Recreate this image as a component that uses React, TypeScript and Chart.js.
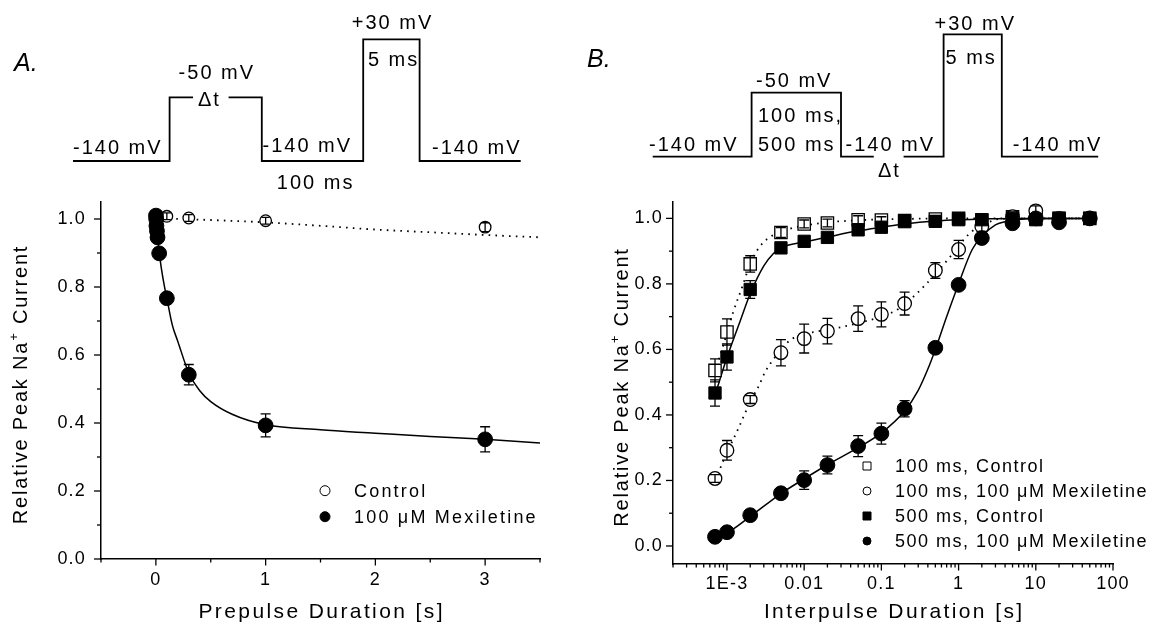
import React, { useEffect, useRef } from 'react';
import { Chart, registerables } from 'chart.js';

Chart.register(...registerables);

const FONT = '"Liberation Sans", Arial, Helvetica, sans-serif';

// ---------------- Panel A: prepulse duration (linear) ----------------
const prepulseControlX = [0.003, 0.01, 0.03, 0.1, 0.3, 1, 3];
const prepulseControlY = [1.0, 1.005, 1.005, 1.008, 1.003, 0.995, 0.976];
const prepulseControlErr = [0.01, 0.01, 0.01, 0.01, 0.01, 0.01, 0.013];

const prepulseMexX = [0.001, 0.003, 0.005, 0.01, 0.015, 0.03, 0.1, 0.3, 1, 3];
const prepulseMexY = [1.01, 1.0, 0.98, 0.965, 0.946, 0.899, 0.767, 0.542, 0.393, 0.352];
const prepulseMexErr = [0.01, 0.01, 0.01, 0.01, 0.01, 0.012, 0.015, 0.03, 0.034, 0.037];

const prepulseControlFitX = [0, 0.5, 1, 1.5, 2, 2.5, 3, 3.5];
const prepulseControlFitY = [1.002, 0.997, 0.99, 0.98, 0.969, 0.961, 0.953, 0.946];

const prepulseMexFitX = [0, 0.01, 0.02, 0.035, 0.05, 0.075, 0.1, 0.15, 0.2, 0.3, 0.4, 0.5, 0.7, 1, 1.5, 2, 2.5, 3, 3.5];
const prepulseMexFitY = [1.0, 0.965, 0.932, 0.89, 0.855, 0.807, 0.767, 0.688, 0.64, 0.547, 0.495, 0.463, 0.425, 0.395, 0.38, 0.37, 0.36, 0.352, 0.341];

const prepulseTickLabels = ['0', '1', '2', '3'];

// ---------------- Panel B: interpulse duration (log) ----------------
const interpulseX = [0.0007, 0.001, 0.002, 0.005, 0.01, 0.02, 0.05, 0.1, 0.2, 0.5, 1, 2, 5, 10, 20, 50];

const ctrl100Y = [0.536, 0.653, 0.861, 0.957, 0.983, 0.986, 0.996, 0.995, 0.993, 0.998, 1.0, 0.995, 1.005, 1.0, 1.0, 1.0];
const ctrl100Err = [0.035, 0.04, 0.025, 0.015, 0.012, 0.012, 0.012, 0.01, 0.01, 0.01, 0.01, 0.01, 0.01, 0.01, 0.01, 0.01];

const mex100Y = [0.206, 0.292, 0.447, 0.59, 0.633, 0.656, 0.694, 0.707, 0.74, 0.841, 0.905, 0.975, 1.005, 1.023, 1.0, 1.0];
const mex100Err = [0.012, 0.03, 0.012, 0.04, 0.044, 0.039, 0.039, 0.038, 0.035, 0.024, 0.028, 0.015, 0.015, 0.015, 0.01, 0.01];

const ctrl500Y = [0.467, 0.577, 0.783, 0.91, 0.93, 0.942, 0.965, 0.973, 0.99, 0.991, 0.996, 0.996, 1.0, 0.996, 1.0, 1.0];
const ctrl500Err = [0.04, 0.04, 0.027, 0.012, 0.01, 0.01, 0.01, 0.01, 0.01, 0.01, 0.01, 0.01, 0.01, 0.01, 0.01, 0.01];

const mex500Y = [0.028, 0.042, 0.094, 0.161, 0.201, 0.247, 0.305, 0.343, 0.419, 0.605, 0.797, 0.94, 0.985, 1.0, 0.988, 1.0];
const mex500Err = [0.008, 0.008, 0.008, 0.01, 0.028, 0.027, 0.032, 0.032, 0.025, 0.015, 0.012, 0.01, 0.01, 0.01, 0.01, 0.01];

const ctrl100FitX = [0.0007, 0.001, 0.0012, 0.0016, 0.002, 0.0025, 0.0034, 0.005, 0.0065, 0.01, 0.02, 0.05, 0.1, 0.3, 1, 5, 50];
const ctrl100FitY = [0.53, 0.65, 0.713, 0.795, 0.862, 0.905, 0.939, 0.958, 0.968, 0.978, 0.988, 0.994, 0.997, 0.999, 1.0, 1.0, 1.0];

const mex100FitX = [0.0007, 0.001, 0.0014, 0.002, 0.0026, 0.0031, 0.004, 0.006, 0.008, 0.015, 0.03, 0.06, 0.1, 0.17, 0.3, 0.5, 0.8, 1.4, 2, 3.4, 10, 50];
const mex100FitY = [0.2, 0.285, 0.358, 0.44, 0.49, 0.53, 0.57, 0.62, 0.64, 0.655, 0.668, 0.685, 0.7, 0.725, 0.775, 0.83, 0.886, 0.955, 0.978, 0.998, 1.0, 1.0];

const ctrl500FitX = [0.0007, 0.001, 0.0015, 0.002, 0.003, 0.004, 0.005, 0.01, 0.02, 0.05, 0.1, 0.2, 0.5, 1, 2, 5, 50];
const ctrl500FitY = [0.46, 0.575, 0.69, 0.77, 0.855, 0.893, 0.91, 0.928, 0.943, 0.962, 0.973, 0.983, 0.992, 0.996, 0.998, 1.0, 1.0];

const mex500FitX = [0.0007, 0.001, 0.002, 0.005, 0.01, 0.02, 0.05, 0.1, 0.2, 0.3, 0.4, 0.5, 0.7, 1, 1.5, 2, 3, 4, 5, 10, 50];
const mex500FitY = [0.028, 0.04, 0.09, 0.16, 0.205, 0.248, 0.3, 0.345, 0.412, 0.475, 0.54, 0.6, 0.7, 0.8, 0.905, 0.945, 0.98, 0.99, 0.995, 1.0, 1.0];

const interpulseMajorTicks = [0.001, 0.01, 0.1, 1, 10, 100];
const interpulseTickLabels = ['1E-3', '0.01', '0.1', '1', '10', '100'];
const interpulseMinorMultipliers = [2, 3, 4, 5, 6, 7, 8, 9];

// ---------------- Legends ----------------
const legendA = [
  { label: 'Control', shape: 'circle', filled: false },
  { label: '100 \u03BCM Mexiletine', shape: 'circle', filled: true },
];
const legendB = [
  { label: '100 ms, Control', shape: 'rect', filled: false },
  { label: '100 ms, 100 \u03BCM Mexiletine', shape: 'circle', filled: false },
  { label: '500 ms, Control', shape: 'rect', filled: true },
  { label: '500 ms, 100 \u03BCM Mexiletine', shape: 'circle', filled: true },
];

const W = 575;
const H = 629;

function pts(xs: number[], ys: number[]) {
  return xs.map((x, i) => ({ x, y: ys[i] }));
}

function scatterSet(data: any, errs: number[], shape: string, filled: boolean, radius: number, cap: number, order: number) {
  return {
    type: 'scatter',
    data,
    pointStyle: shape,
    pointRadius: radius,
    pointBackgroundColor: filled ? '#000' : '#fff',
    pointBorderColor: '#000',
    pointBorderWidth: filled ? 1 : 1.3,
    backgroundColor: filled ? '#000' : '#fff',
    borderColor: '#000',
    showLine: false,
    errorBars: errs,
    capWidth: cap,
    order,
  };
}

function fitSet(data: any, dotted: boolean, order: number) {
  return {
    type: 'line',
    data,
    borderColor: '#000',
    borderWidth: dotted ? 1.8 : 1.5,
    borderDash: dotted ? [1.6, 5.2] : [],
    pointRadius: 0,
    fill: false,
    cubicInterpolationMode: 'monotone',
    order,
  };
}

const spacingPlugin = {
  id: 'spacing',
  beforeLayout(chart: any) {
    chart.ctx.letterSpacing = '1.2px';
  },
  beforeDraw(chart: any) {
    chart.ctx.letterSpacing = '1.2px';
  },
};

const errorBarPlugin = {
  id: 'errorBars',
  afterDatasetDraw(chart: any, args: any) {
    const ds = chart.data.datasets[args.index];
    const errs = ds.errorBars;
    if (!errs) return;
    const ctx = chart.ctx;
    const xs = chart.scales.x;
    const ys = chart.scales.y;
    ctx.save();
    ctx.strokeStyle = '#000';
    ctx.lineWidth = 1.3;
    const cw = ds.capWidth / 2;
    ds.data.forEach((p: any, i: number) => {
      const e = errs[i];
      if (!e) return;
      const px = xs.getPixelForValue(p.x);
      const top = ys.getPixelForValue(p.y + e);
      const bot = ys.getPixelForValue(p.y - e);
      ctx.beginPath();
      ctx.moveTo(px, top);
      ctx.lineTo(px, bot);
      ctx.moveTo(px - cw, top);
      ctx.lineTo(px + cw, top);
      ctx.moveTo(px - cw, bot);
      ctx.lineTo(px + cw, bot);
      ctx.stroke();
    });
    ctx.restore();
  },
};

function drawMarker(ctx: any, shape: string, filled: boolean, x: number, y: number, r: number) {
  ctx.beginPath();
  if (shape === 'circle') {
    ctx.arc(x, y, r, 0, Math.PI * 2);
  } else {
    ctx.rect(x - r, y - r, 2 * r, 2 * r);
  }
  ctx.fillStyle = filled ? '#000' : '#fff';
  ctx.fill();
  ctx.strokeStyle = '#000';
  ctx.lineWidth = 1;
  ctx.stroke();
}

function makeDecor(cfg: any) {
  return {
    id: 'decor',
    afterDraw(chart: any) {
      const ctx = chart.ctx;
      const area = chart.chartArea;
      const xs = chart.scales.x;
      const ys = chart.scales.y;
      ctx.save();
      // tick marks (major long, minor short, outward)
      ctx.strokeStyle = '#000';
      ctx.lineWidth = 1.3;
      xs.ticks.forEach((t: any) => {
        const major = t.label !== '' && t.label != null;
        const len = major ? 6.5 : 3.5;
        const px = xs.getPixelForValue(t.value);
        ctx.beginPath();
        ctx.moveTo(px, area.bottom);
        ctx.lineTo(px, area.bottom + len);
        ctx.stroke();
      });
      ys.ticks.forEach((t: any) => {
        const major = t.label !== '' && t.label != null;
        const len = major ? 7 : 4;
        const py = ys.getPixelForValue(t.value);
        ctx.beginPath();
        ctx.moveTo(area.left, py);
        ctx.lineTo(area.left - len, py);
        ctx.stroke();
      });

      ctx.fillStyle = '#000';
      // x title
      ctx.font = `21px ${FONT}`;
      ctx.letterSpacing = '2.4px';
      ctx.textAlign = 'center';
      ctx.textBaseline = 'middle';
      ctx.fillText(cfg.xTitle, (area.left + area.right) / 2 + 1.2, cfg.xTitleY);

      // y title with superscript
      ctx.save();
      ctx.translate(cfg.yTitleX, (area.top + area.bottom) / 2 + 4);
      ctx.rotate(-Math.PI / 2);
      ctx.textAlign = 'left';
      ctx.letterSpacing = '1.8px';
      ctx.font = `20px ${FONT}`;
      const p1 = 'Relative Peak Na';
      const p3 = ' Current';
      const w1 = ctx.measureText(p1).width;
      const w3 = ctx.measureText(p3).width;
      ctx.font = `13px ${FONT}`;
      const w2 = ctx.measureText('+').width;
      const start = -(w1 + w2 + w3) / 2;
      ctx.font = `20px ${FONT}`;
      ctx.fillText(p1, start, 0);
      ctx.font = `13px ${FONT}`;
      ctx.fillText('+', start + w1, -7);
      ctx.font = `20px ${FONT}`;
      ctx.fillText(p3, start + w1 + w2, 0);
      ctx.restore();

      // legend
      ctx.font = `18px ${FONT}`;
      ctx.letterSpacing = cfg.legendSpacing;
      ctx.textAlign = 'left';
      ctx.textBaseline = 'middle';
      cfg.legend.forEach((item: any, i: number) => {
        const y = cfg.legendRows[i];
        drawMarker(ctx, item.shape, item.filled, cfg.legendMarkerX, y, cfg.legendMarkerR);
        ctx.fillStyle = '#000';
        ctx.fillText(item.label, cfg.legendTextX, y + 1);
      });
      ctx.restore();
    },
  };
}

const tickFont = { family: FONT, size: 18 };

function linearYTick(v: any) {
  const n = Math.round(Number(v) * 10);
  return n % 2 === 0 ? (n / 10).toFixed(1) : '';
}

function buildChartA(canvas: HTMLCanvasElement) {
  const datasets: any[] = [
    scatterSet(pts(prepulseMexX, prepulseMexY), prepulseMexErr, 'circle', true, 7.4, 10, 1),
    scatterSet(pts(prepulseControlX, prepulseControlY), prepulseControlErr, 'circle', false, 5.8, 8, 2),
    fitSet(pts(prepulseMexFitX, prepulseMexFitY), false, 3),
    fitSet(pts(prepulseControlFitX, prepulseControlFitY), true, 4),
  ];
  return new Chart(canvas, {
    type: 'scatter',
    data: { datasets },
    options: {
      responsive: false,
      maintainAspectRatio: false,
      animation: false,
      devicePixelRatio: 1,
      events: [],
      layout: { padding: { left: 0, right: 35, top: 202, bottom: 0 } },
      plugins: { legend: { display: false }, tooltip: { enabled: false }, title: { display: false } },
      scales: {
        x: {
          type: 'linear',
          min: -0.5,
          max: 3.5,
          afterFit: (s: any) => { s.height = H - 559; },
          grid: { display: false, drawTicks: false },
          border: { display: true, color: '#000', width: 1.5 },
          ticks: {
            stepSize: 0.5,
            autoSkip: false,
            maxRotation: 0,
            includeBounds: false,
            padding: 10,
            color: '#000',
            font: tickFont,
            callback: (v: any) => {
              const n = Number(v);
              const idx = Math.round(n);
              return Math.abs(n - idx) < 1e-6 && idx >= 0 && idx < prepulseTickLabels.length ? prepulseTickLabels[idx] : '';
            },
          },
        },
        y: {
          type: 'linear',
          min: 0,
          max: 1.05,
          afterFit: (s: any) => { s.width = 101; },
          grid: { display: false, drawTicks: false },
          border: { display: true, color: '#000', width: 1.5 },
          ticks: {
            stepSize: 0.1,
            autoSkip: false,
            includeBounds: false,
            padding: 15,
            color: '#000',
            font: tickFont,
            callback: linearYTick,
          },
        },
      },
    } as any,
    plugins: [
      spacingPlugin,
      errorBarPlugin,
      makeDecor({
        xTitle: 'Prepulse Duration [s]',
        xTitleY: 612,
        yTitleX: 21,
        legend: legendA,
        legendRows: [490.7, 516.7],
        legendMarkerX: 325,
        legendMarkerR: 5,
        legendTextX: 354,
        legendSpacing: '2.2px',
      }),
    ] as any,
  });
}

function buildChartB(canvas: HTMLCanvasElement) {
  const datasets: any[] = [
    scatterSet(pts(interpulseX, mex500Y), mex500Err, 'circle', true, 7.4, 10, 1),
    scatterSet(pts(interpulseX, ctrl500Y), ctrl500Err, 'rect', true, 8.7, 10, 2),
    scatterSet(pts(interpulseX, mex100Y), mex100Err, 'circle', false, 6.8, 10, 3),
    scatterSet(pts(interpulseX, ctrl100Y), ctrl100Err, 'rect', false, 8.7, 10, 4),
    fitSet(pts(mex500FitX, mex500FitY), false, 5),
    fitSet(pts(ctrl500FitX, ctrl500FitY), false, 6),
    fitSet(pts(mex100FitX, mex100FitY), true, 7),
    fitSet(pts(ctrl100FitX, ctrl100FitY), true, 8),
  ];
  const logMin = 0.0002;
  const logMax = 100;
  return new Chart(canvas, {
    type: 'scatter',
    data: { datasets },
    options: {
      responsive: false,
      maintainAspectRatio: false,
      animation: false,
      devicePixelRatio: 1,
      events: [],
      layout: { padding: { left: 0, right: 37, top: 202, bottom: 0 } },
      plugins: { legend: { display: false }, tooltip: { enabled: false }, title: { display: false } },
      scales: {
        x: {
          type: 'logarithmic',
          min: logMin,
          max: logMax,
          afterFit: (s: any) => { s.height = H - 564; },
          afterBuildTicks: (s: any) => {
            const ticks: any[] = [];
            const decades = [0.0001, ...interpulseMajorTicks];
            decades.forEach((d) => {
              [1, ...interpulseMinorMultipliers].forEach((m) => {
                const v = d * m;
                if (v >= logMin * 0.999 && v <= logMax * 1.001) ticks.push({ value: v });
              });
            });
            s.ticks = ticks;
          },
          grid: { display: false, drawTicks: false },
          border: { display: true, color: '#000', width: 1.5 },
          ticks: {
            autoSkip: false,
            maxRotation: 0,
            padding: 9,
            color: '#000',
            font: tickFont,
            callback: (v: any) => {
              const lv = Math.log10(Number(v));
              const idx = interpulseMajorTicks.findIndex((m) => Math.abs(Math.log10(m) - lv) < 1e-6);
              return idx >= 0 ? interpulseTickLabels[idx] : '';
            },
          },
        },
        y: {
          type: 'linear',
          min: -0.055,
          max: 1.05,
          afterFit: (s: any) => { s.width = 98; },
          grid: { display: false, drawTicks: false },
          border: { display: true, color: '#000', width: 1.5 },
          ticks: {
            stepSize: 0.1,
            autoSkip: false,
            includeBounds: false,
            padding: 10,
            color: '#000',
            font: tickFont,
            callback: linearYTick,
          },
        },
      },
    } as any,
    plugins: [
      spacingPlugin,
      errorBarPlugin,
      makeDecor({
        xTitle: 'Interpulse Duration [s]',
        xTitleY: 612,
        yTitleX: 47,
        legend: legendB,
        legendRows: [466, 491, 516, 541],
        legendMarkerX: 292,
        legendMarkerR: 4,
        legendTextX: 320,
        legendSpacing: '1.5px',
      }),
    ] as any,
  });
}

const txt: any = { fontFamily: FONT, fontSize: 20, letterSpacing: 2, fill: '#000' };

function Diagrams() {
  return (
    <svg width={1150} height={629} style={{ position: 'absolute', left: 0, top: 0, pointerEvents: 'none' }}>
      <g fill="none" stroke="#000" strokeWidth={1.8}>
        {/* Panel A protocol */}
        <polyline points="73,161 169.6,161 169.6,97.3 193,97.3" />
        <polyline points="228.6,97.3 261.8,97.3 261.8,161 363.2,161 363.2,39.3 419.6,39.3 419.6,161 520.7,161" />
        {/* Panel B protocol */}
        <polyline points="652.7,156.7 751.6,156.7 751.6,92.7 841,92.7 841,156.7 873.8,156.7" />
        <polyline points="903.6,156.7 943.6,156.7 943.6,34.3 1001.8,34.3 1001.8,156.7 1098.2,156.7" />
      </g>
      <g style={txt}>
        <text x={14} y={71} style={{ fontSize: 25, fontStyle: 'italic', letterSpacing: 0 }}>A.</text>
        <text x={73} y={154}>-140 mV</text>
        <text x={178.6} y={79}>-50 mV</text>
        <text x={198} y={105.5}>{'\u0394t'}</text>
        <text x={262.5} y={152}>-140 mV</text>
        <text x={276.8} y={189}>100 ms</text>
        <text x={351.8} y={29}>+30 mV</text>
        <text x={367.9} y={65.5}>5 ms</text>
        <text x={432} y={154}>-140 mV</text>

        <text x={587} y={67} style={{ fontSize: 25, fontStyle: 'italic', letterSpacing: 0 }}>B.</text>
        <text x={649} y={150.5}>-140 mV</text>
        <text x={756} y={87}>-50 mV</text>
        <text x={758} y={122}>100 ms,</text>
        <text x={758} y={150.5}>500 ms</text>
        <text x={845.5} y={150.5}>-140 mV</text>
        <text x={878} y={177}>{'\u0394t'}</text>
        <text x={934.5} y={30}>+30 mV</text>
        <text x={945.5} y={64}>5 ms</text>
        <text x={1012.7} y={150.5}>-140 mV</text>
      </g>
    </svg>
  );
}

export default function App() {
  const refA = useRef<HTMLCanvasElement>(null);
  const refB = useRef<HTMLCanvasElement>(null);

  useEffect(() => {
    const a = refA.current ? buildChartA(refA.current) : null;
    const b = refB.current ? buildChartB(refB.current) : null;
    return () => {
      if (a) a.destroy();
      if (b) b.destroy();
    };
  }, []);

  return (
    <div style={{ position: 'absolute', left: 0, top: 0, width: 1150, height: 629, background: '#fff', overflow: 'hidden' }}>
      <canvas ref={refA} width={W} height={H} style={{ position: 'absolute', left: 0, top: 0, width: W, height: H }} />
      <canvas ref={refB} width={W} height={H} style={{ position: 'absolute', left: 575, top: 0, width: W, height: H }} />
      <Diagrams />
    </div>
  );
}
